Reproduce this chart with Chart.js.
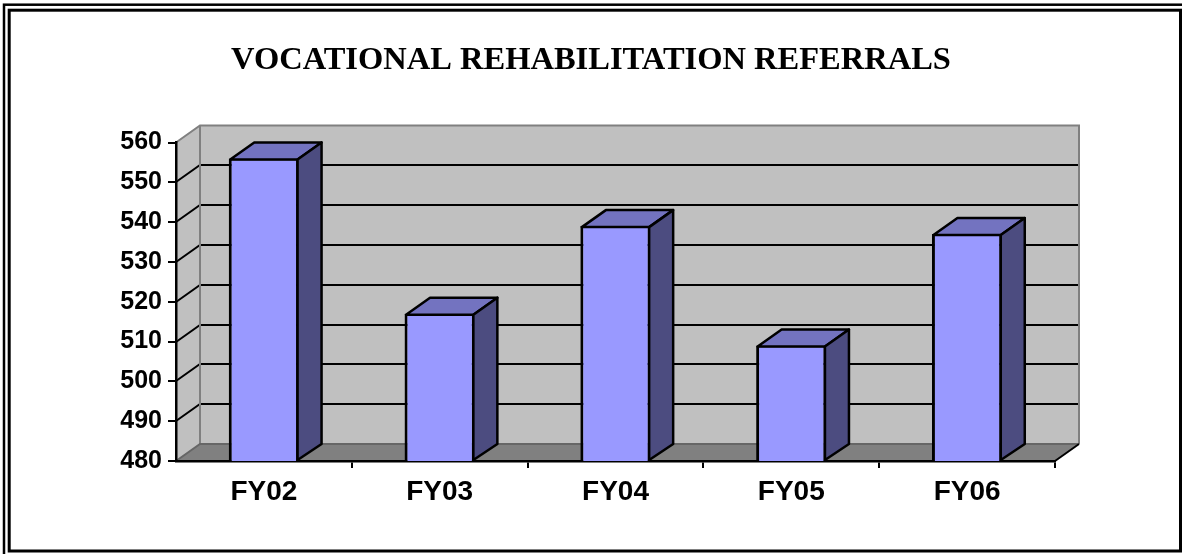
<!DOCTYPE html>
<html lang="en">
<head>
<meta charset="UTF-8">
<title>Vocational Rehabilitation Referrals</title>
<script src="https://cdn.jsdelivr.net/npm/chart.js"></script>
<style>
  html, body { margin: 0; padding: 0; background: #fff; }
  canvas { display: block; }
</style>
</head>
<body>
<canvas id="chart" width="1182" height="554"></canvas>
<script>
// data
const years = ['FY02', 'FY03', 'FY04', 'FY05', 'FY06'];
const referrals = [556, 517, 539, 509, 537];
const yMin = 480, yMax = 560, yStep = 10;

// 3d depth of the walls / columns
const DX = 24, DY = 17;

const excel3d = {
    id: 'excel3d',
    beforeDraw(chart) {
        const ctx = chart.ctx;
        const a = chart.chartArea;
        const ys = chart.scales.y;
        const L = a.left, R = a.right, T = a.top, B = a.bottom;
        ctx.save();

        // double frame round the whole chart
        ctx.strokeStyle = '#000';
        ctx.lineWidth = 2.5;
        ctx.strokeRect(4, 4.7, 1300, 700);
        ctx.lineWidth = 3;
        ctx.strokeRect(9.2, 10.2, 1171.3, 540.8);

        // side wall
        ctx.fillStyle = '#C0C0C0';
        ctx.beginPath();
        ctx.moveTo(L, T); ctx.lineTo(L + DX, T - DY);
        ctx.lineTo(L + DX, B - DY); ctx.lineTo(L, B);
        ctx.closePath(); ctx.fill();
        // back wall
        ctx.fillRect(L + DX, T - DY, R - L, B - T);
        // floor
        ctx.fillStyle = '#808080';
        ctx.beginPath();
        ctx.moveTo(L, B); ctx.lineTo(L + DX, B - DY);
        ctx.lineTo(R + DX, B - DY); ctx.lineTo(R, B);
        ctx.closePath(); ctx.fill();

        // gridlines on side + back wall
        ctx.strokeStyle = '#000';
        ctx.lineWidth = 2;
        ys.ticks.forEach(t => {
            if (t.value <= yMin || t.value >= yMax) return;
            const py = Math.round(ys.getPixelForValue(t.value));
            ctx.beginPath();
            ctx.moveTo(L, py);
            ctx.lineTo(L + DX, py - DY);
            ctx.lineTo(R + DX, py - DY);
            ctx.stroke();
        });

        // wall edges
        ctx.strokeStyle = '#808080';
        ctx.beginPath();
        ctx.moveTo(L, T); ctx.lineTo(L + DX, T - DY);
        ctx.lineTo(R + DX, T - DY); ctx.lineTo(R + DX, B - DY);
        ctx.moveTo(L + DX, T - DY); ctx.lineTo(L + DX, B - DY);
        ctx.stroke();
        ctx.strokeStyle = '#666';
        ctx.beginPath();
        ctx.moveTo(L, B); ctx.lineTo(L + DX, B - DY); ctx.lineTo(R + DX, B - DY);
        ctx.stroke();
        // floor right edge
        ctx.strokeStyle = '#000';
        ctx.beginPath();
        ctx.moveTo(R, B); ctx.lineTo(R + DX, B - DY);
        ctx.stroke();
        ctx.restore();
    },
    afterDatasetsDraw(chart) {
        const ctx = chart.ctx;
        const bottom = chart.chartArea.bottom;
        const bars = chart.getDatasetMeta(0).data;
        ctx.save();
        ctx.lineWidth = 2.5;
        ctx.strokeStyle = '#000';
        ctx.lineJoin = 'round';
        bars.forEach(b => {
            const x0 = b.x - b.width / 2 + 1.5;
            const x1 = b.x + b.width / 2 - 1.5;
            const top = b.y + 1;
            const base = Math.min(b.base, bottom);
            // top face
            ctx.fillStyle = '#7373C0';
            ctx.beginPath();
            ctx.moveTo(x0, top); ctx.lineTo(x0 + DX, top - DY);
            ctx.lineTo(x1 + DX, top - DY); ctx.lineTo(x1, top);
            ctx.closePath(); ctx.fill(); ctx.stroke();
            // side face
            ctx.fillStyle = '#4C4C80';
            ctx.beginPath();
            ctx.moveTo(x1, top); ctx.lineTo(x1 + DX, top - DY);
            ctx.lineTo(x1 + DX, base - DY); ctx.lineTo(x1, base - 1);
            ctx.closePath(); ctx.fill(); ctx.stroke();
        });
        ctx.restore();
    }
};

new Chart(document.getElementById('chart'), {
    type: 'bar',
    data: {
        labels: years,
        datasets: [{
            label: 'Referrals',
            data: referrals,
            backgroundColor: '#9999FF',
            borderColor: '#000',
            borderWidth: {left: 3, right: 3, top: 2, bottom: 2},
            borderSkipped: false,
            barPercentage: 0.4,
            categoryPercentage: 1
        }]
    },
    options: {
        responsive: false,
        animation: false,
        layout: {padding: {left: 0, top: 10, right: 0, bottom: 0}},
        plugins: {
            legend: {display: false},
            tooltip: {enabled: false},
            title: {
                display: true,
                text: 'VOCATIONAL REHABILITATION REFERRALS',
                color: '#000',
                font: {family: "'Liberation Serif', 'Times New Roman', serif", size: 32.5, weight: 'bold', lineHeight: 1.2},
                padding: {top: 31, bottom: 62.5}
            }
        },
        scales: {
            x: {
                grid: {
                    offset: true,
                    drawOnChartArea: false,
                    tickLength: 7,
                    lineWidth: 2,
                    color: c => c.index === 0 ? 'rgba(0,0,0,0)' : '#000'
                },
                border: {display: true, color: '#000', width: 2.5},
                ticks: {
                    color: '#000',
                    padding: 7,
                    font: {family: "'Liberation Sans', Arial, sans-serif", size: 28, weight: 'bold'}
                },
                afterFit(s) { s.height = 93; }
            },
            y: {
                min: yMin,
                max: yMax,
                grid: {drawOnChartArea: false, tickLength: 8, lineWidth: 2, color: '#000'},
                border: {display: true, color: '#000', width: 2.5},
                ticks: {
                    stepSize: yStep,
                    color: '#000',
                    padding: 6,
                    font: {family: "'Liberation Sans', Arial, sans-serif", size: 25, weight: 'bold'}
                },
                afterFit(s) { s.width = 176; }
            },
            // empty right-hand axis, only reserves the space right of the plot
            yRight: {
                position: 'right',
                min: yMin,
                max: yMax,
                grid: {display: false},
                border: {display: false},
                ticks: {display: false},
                afterFit(s) { s.width = 127; }
            }
        }
    },
    plugins: [excel3d]
});
</script>
</body>
</html>
